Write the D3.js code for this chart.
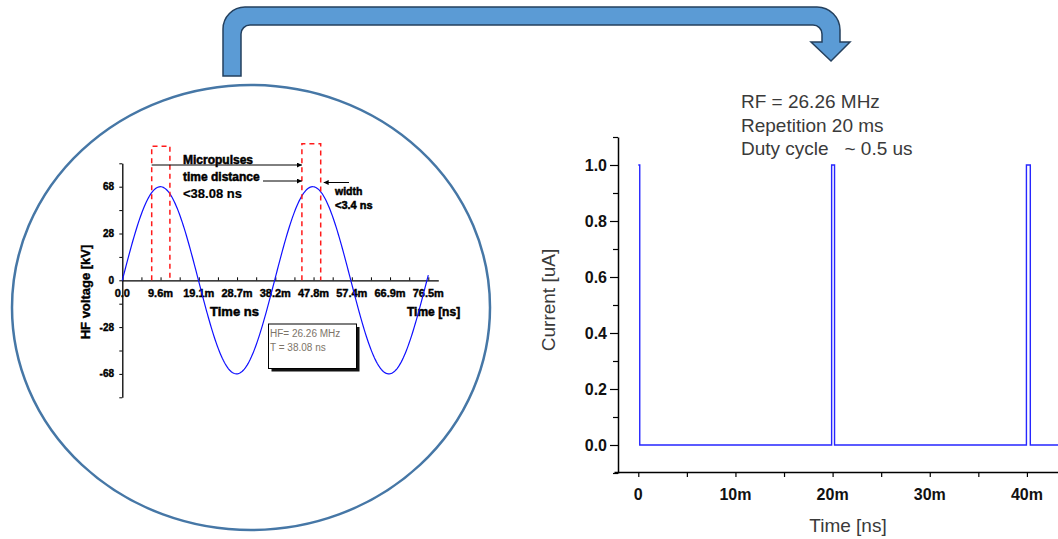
<!DOCTYPE html>
<html>
<head>
<meta charset="utf-8">
<script src="https://cdn.jsdelivr.net/npm/d3@7"></script>
<style>
  body { margin: 0; background: #fff; }
  svg { display: block; font-family: Arial, "Liberation Sans", sans-serif; }
  text { white-space: pre; }
</style>
</head>
<body>
<div id="chart"></div>
<script>
// ---- left inset: HF voltage sine ----
var hfPeriod = 38.08;          // ns
var hfAmplitude = 60;          // reaches top labelled tick
var hfEnd = 76.5;              // ns, last drawn time
var hfTickVals = [0, 9.5625, 19.125, 28.6875, 38.25, 47.8125, 57.375, 66.9375, 76.5];
var hfTickLabels = ["0.0", "9.6m", "19.1m", "28.7m", "38.2m", "47.8m", "57.4m", "66.9m", "76.5m"];
var kvTickVals = [-60, -30, 0, 30, 60];
var kvTickLabels = ["-68", "-28", "0", "28", "68"];
var micropulses = [
  {start: 7.35, end: 11.9, top: 86},
  {start: 44.9, end: 49.6, top: 87.5}
];

// ---- right chart: current pulses ----
var pulseTime = [0, 0.15, 0.15, 19.9, 19.9, 20.2, 20.2, 39.95, 39.95, 40.35, 40.35, 43.2];
var pulseCurrent = [1, 1, 0, 0, 1, 1, 0, 0, 1, 1, 0, 0];
var timeTicks = [0, 10, 20, 30, 40];
var timeTickLabels = ["0", "10m", "20m", "30m", "40m"];
var currentTicks = [0, 0.2, 0.4, 0.6, 0.8, 1.0];
var infoLines = ["RF = 26.26 MHz", "Repetition 20 ms", "Duty cycle   ~ 0.5 us"];

var W = 1058, H = 539;
var svg = d3.select("#chart").append("svg").attr("width", W).attr("height", H);

var defs = svg.append("defs");
defs.append("marker").attr("id", "ah").attr("viewBox", "0 0 6 6")
    .attr("refX", 6).attr("refY", 3).attr("markerWidth", 5).attr("markerHeight", 5)
    .attr("orient", "auto-start-reverse")
  .append("path").attr("d", "M0,0L6,3L0,6Z").attr("fill", "#000");

// ellipse frame
svg.append("ellipse")
    .attr("cx", 251).attr("cy", 307.5).attr("rx", 239).attr("ry", 222.5)
    .attr("fill", "none").attr("stroke", "#4677a6").attr("stroke-width", 2.5);

// bent arrow
svg.append("path")
    .attr("d", "M223,76 L223,29 A22,22 0 0 1 245,7 L817,7 A23,23 0 0 1 840,30 L840,42 L850,42 L831,61 L811,42 L822,42 L822,34 A9,9 0 0 0 813,25 L250,25 A9,9 0 0 0 241,34 L241,76 Z")
    .attr("fill", "#5b9bd5").attr("stroke", "#24405e").attr("stroke-width", 1.5);

// ===== left inset =====
var lx = d3.scaleLinear().domain([0, 79]).range([122.3, 438.3]);
var ly = d3.scaleLinear().domain([-75, 75]).range([397.3, 163.3]);
var inset = svg.append("g");

var minorX = d3.range(0, 79, hfTickVals[1] / 2);
inset.append("g").attr("transform", "translate(0," + ly(0) + ")")
    .call(d3.axisTop(lx).tickValues(minorX).tickSize(3).tickSizeOuter(0).tickFormat(""))
    .call(function(g) { g.select(".domain").attr("stroke-width", 1.3); });
inset.append("g").attr("transform", "translate(0," + ly(0) + ")")
  .selectAll("text").data(hfTickVals).join("text")
    .attr("x", function(d) { return lx(d); }).attr("y", 17)
    .attr("text-anchor", "middle").attr("font-size", 11).attr("font-weight", "bold")
    .attr("stroke", "#000").attr("stroke-width", 0.4)
    .text(function(d, i) { return hfTickLabels[i]; });

var minorY = d3.range(-75, 76, 15);
inset.append("g").attr("transform", "translate(" + lx(0) + ",0)")
    .call(d3.axisLeft(ly).tickValues(minorY).tickSize(3).tickSizeOuter(0).tickFormat(""))
    .call(function(g) { g.select(".domain").attr("stroke-width", 1.3); });
inset.append("g")
  .selectAll("text").data(kvTickVals).join("text")
    .attr("x", 114).attr("y", function(d) { return ly(d); }).attr("dy", "0.35em")
    .attr("text-anchor", "end").attr("font-size", 10).attr("font-weight", "bold")
    .attr("stroke", "#000").attr("stroke-width", 0.4)
    .text(function(d, i) { return kvTickLabels[i]; });

inset.append("text").attr("transform", "translate(90,292) rotate(-90)")
    .attr("text-anchor", "middle").attr("font-size", 13).attr("font-weight", "bold")
    .attr("stroke", "#000").attr("stroke-width", 0.4)
    .text("HF voltage [kV]");
inset.append("text").attr("x", 210).attr("y", 315.5)
    .attr("font-size", 13).attr("font-weight", "bold").attr("stroke", "#000").attr("stroke-width", 0.5)
    .text("Time ns");
inset.append("text").attr("x", 407).attr("y", 315.5)
    .attr("font-size", 12).attr("font-weight", "bold").attr("stroke", "#000").attr("stroke-width", 0.5)
    .text("Time [ns]");

// sine wave
var sineT = d3.range(0, hfEnd + 0.01, 0.25);
inset.append("path")
    .datum(sineT)
    .attr("d", d3.line()
      .x(function(t) { return lx(t); })
      .y(function(t) { return ly(hfAmplitude * Math.sin(2 * Math.PI * t / hfPeriod)); }))
    .attr("fill", "none").attr("stroke", "#1010ff").attr("stroke-width", 1.2);

// micropulse windows
inset.selectAll(".win").data(micropulses).join("path")
    .attr("class", "win")
    .attr("d", function(d) {
      return "M" + lx(d.start) + "," + ly(0) + "V" + ly(d.top) + "H" + lx(d.end) + "V" + ly(0);
    })
    .attr("fill", "none").attr("stroke", "#ff1a1a").attr("stroke-width", 1.5)
    .attr("stroke-dasharray", "5,4");

// annotation arrows
var ann = inset.append("g").attr("stroke", "#000").attr("stroke-width", 1);
ann.append("line").attr("x1", lx(micropulses[0].start)).attr("x2", lx(micropulses[1].start))
    .attr("y1", 165).attr("y2", 165).attr("marker-end", "url(#ah)");
ann.append("line").attr("x1", 263).attr("x2", lx(micropulses[1].start))
    .attr("y1", 181).attr("y2", 181).attr("marker-end", "url(#ah)");
ann.append("line").attr("x1", 349).attr("x2", lx(micropulses[1].end) + 3)
    .attr("y1", 182.5).attr("y2", 182.5).attr("marker-end", "url(#ah)");

var labels = [
  {t: "Micropulses", x: 183, y: 160, s: 12, w: 0.5},
  {t: "time distance", x: 183, y: 176.5, s: 12, w: 0.5},
  {t: "<38.08 ns", x: 183, y: 193, s: 13, w: 0.2},
  {t: "width", x: 335, y: 191.5, s: 10.5, w: 0.5},
  {t: "<3.4 ns", x: 335, y: 205.5, s: 11, w: 0.5}
];
inset.selectAll(".ann").data(labels).join("text")
    .attr("class", "ann")
    .attr("x", function(d) { return d.x; }).attr("y", function(d) { return d.y; }).attr("dy", "0.35em")
    .attr("font-size", function(d) { return d.s; }).attr("font-weight", "bold")
    .attr("stroke", "#000").attr("stroke-width", function(d) { return d.w; })
    .text(function(d) { return d.t; });

// HF info box
var box = inset.append("g");
box.append("rect").attr("x", 271.5).attr("y", 327).attr("width", 88).attr("height", 44.5).attr("fill", "#111");
box.append("rect").attr("x", 268.5).attr("y", 324).attr("width", 88).attr("height", 44.5)
    .attr("fill", "#fff").attr("stroke", "#000").attr("stroke-width", 1);
box.selectAll("text").data(["HF= 26.26 MHz", "T = 38.08 ns"]).join("text")
    .attr("x", 270).attr("y", function(d, i) { return 333 + i * 14; }).attr("dy", "0.35em")
    .attr("font-size", 10).attr("fill", "#7d7468")
    .text(function(d) { return d; });

// ===== right chart =====
var rx = d3.scaleLinear().domain([-2.5, 43.2]).range([614, 1058]);
var ry = d3.scaleLinear().domain([-0.1, 1.1]).range([473, 137]);
var axisY = 472, axisX = 618;
var right = svg.append("g");

right.append("g").attr("transform", "translate(0," + axisY + ")")
    .call(d3.axisBottom(rx).tickValues(d3.range(0, 43, 5)).tickSize(5).tickSizeOuter(0).tickFormat(""))
    .call(function(g) { g.select(".domain").attr("stroke-width", 1.5); g.selectAll(".tick line").attr("stroke-width", 1.2); });
right.append("g")
  .selectAll("text").data(timeTicks).join("text")
    .attr("x", function(d) { return rx(d); }).attr("y", 494).attr("dy", "0.35em")
    .attr("text-anchor", "middle").attr("font-size", 16).attr("font-weight", "bold").attr("fill", "#111")
    .text(function(d, i) { return timeTickLabels[i]; });

right.append("g").attr("transform", "translate(" + axisX + ",0)")
    .call(d3.axisLeft(ry).tickValues(d3.range(-0.1, 1.15, 0.1)).tickSize(5).tickSizeOuter(0).tickFormat(""))
    .call(function(g) {
      g.select(".domain").attr("stroke-width", 1.5);
      g.selectAll(".tick line").attr("stroke-width", 1.2)
        .attr("x2", function(d) { return Math.abs(Math.round(d * 10) % 2) === 0 ? -8 : -5; });
    });
right.append("g")
  .selectAll("text").data(currentTicks).join("text")
    .attr("x", 607).attr("y", function(d) { return ry(d); }).attr("dy", "0.35em")
    .attr("text-anchor", "end").attr("font-size", 16).attr("font-weight", "bold").attr("fill", "#111")
    .text(function(d) { return d3.format(".1f")(d); });

right.append("text").attr("x", 848).attr("y", 525).attr("dy", "0.35em")
    .attr("text-anchor", "middle").attr("font-size", 19).attr("fill", "#3a3a3a")
    .text("Time [ns]");
right.append("text").attr("transform", "translate(548,300) rotate(-90)").attr("dy", "0.35em")
    .attr("text-anchor", "middle").attr("font-size", 19).attr("fill", "#3a3a3a")
    .text("Current [uA]");

right.append("path")
    .datum(pulseTime.map(function(t, i) { return {t: t, c: pulseCurrent[i]}; }))
    .attr("d", d3.line().x(function(d) { return rx(d.t); }).y(function(d) { return ry(d.c); }))
    .attr("fill", "none").attr("stroke", "#2626ff").attr("stroke-width", 1.4);

right.selectAll(".info").data(infoLines).join("text")
    .attr("class", "info")
    .attr("x", 741).attr("y", function(d, i) { return 101.5 + i * 23.5; }).attr("dy", "0.35em")
    .attr("font-size", 19).attr("fill", "#3a3a3a")
    .text(function(d) { return d; });
</script>
</body>
</html>
